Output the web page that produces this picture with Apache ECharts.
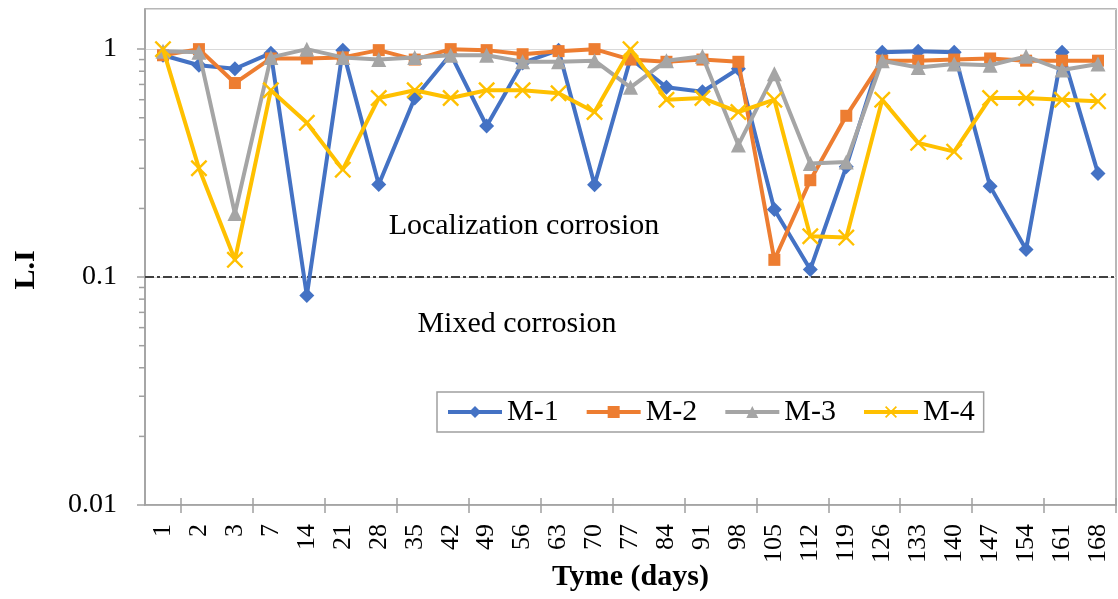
<!DOCTYPE html>
<html>
<head>
<meta charset="utf-8">
<script src="https://cdn.jsdelivr.net/npm/echarts@6/dist/echarts.min.js"></script>
<style>
html,body{margin:0;padding:0;background:#fff;}
#chart{width:1118px;height:599px;}
</style>
</head>
<body>
<div id="chart"></div>
<script>
// ---- data ----
const categories = ['1','2','3','7','14','21','28','35','42','49','56','63','70','77','84','91','98','105','112','119','126','133','140','147','154','161','168'];
const m1 = [0.94,0.85,0.82,0.96,0.083,0.99,0.255,0.61,0.95,0.46,0.87,0.99,0.254,0.91,0.68,0.65,0.82,0.198,0.108,0.305,0.97,0.98,0.97,0.25,0.132,0.97,0.285];
const m2 = [0.94,1.0,0.71,0.91,0.91,0.92,0.99,0.90,1.0,0.99,0.95,0.98,1.0,0.90,0.88,0.90,0.88,0.119,0.266,0.51,0.89,0.89,0.90,0.91,0.89,0.89,0.89];
const m3 = [0.98,0.97,0.19,0.92,1.0,0.92,0.90,0.92,0.94,0.94,0.88,0.88,0.89,0.68,0.89,0.93,0.38,0.78,0.315,0.32,0.89,0.83,0.86,0.85,0.93,0.81,0.86];
const m4 = [1.0,0.30,0.119,0.66,0.475,0.296,0.61,0.66,0.61,0.66,0.66,0.64,0.53,1.0,0.60,0.61,0.53,0.60,0.151,0.149,0.60,0.388,0.355,0.61,0.61,0.60,0.59];
const seriesNames = ['M-1','M-2','M-3','M-4'];
const yTickValues = [0.01, 0.1, 1];
const yMinorTicks = [0.02,0.03,0.04,0.05,0.06,0.07,0.08,0.09,0.2,0.3,0.4,0.5,0.6,0.7,0.8,0.9];
const thresholdValue = 0.1;
const xTitle = 'Tyme (days)';
const yTitle = 'L.I';
const noteUpper = 'Localization corrosion';
const noteLower = 'Mixed corrosion';

// ---- styles ----
const FONT = '"Liberation Serif", "Times New Roman", serif';
const colors = ['#4472C4','#ED7D31','#A5A5A5','#FFC000'];
const xSymbol = 'path://M0,1 L1,0 L5,4 L9,0 L10,1 L6,5 L10,9 L9,10 L5,6 L1,10 L0,9 L4,5 Z';
const symbols = ['diamond','rect','triangle',xSymbol];
const symbolSizes = [15,12,15,17];
const axisGray = '#A0A0A0';

const chart = echarts.init(document.getElementById('chart'), null, {renderer:'canvas'});

const lineSeries = [m1,m2,m3,m4].map((d,i) => ({
  name: seriesNames[i],
  type: 'line',
  data: d,
  xAxisIndex: 0,
  yAxisIndex: 0,
  symbol: symbols[i],
  symbolSize: symbolSizes[i],
  showAllSymbol: true,
  lineStyle: {width: 4, color: colors[i]},
  itemStyle: {color: colors[i], borderWidth: 0},
  emphasis: {disabled: true},
  z: 3 + i,
  markLine: i === 0 ? {
    silent: true,
    symbol: ['none','none'],
    label: {show: false},
    lineStyle: {color: '#404040', width: 2, type: [9,3,3,3]},
    data: [{yAxis: thresholdValue}],
    z: 2
  } : undefined
}));

const minorTickSeries = {
  type: 'custom',
  xAxisIndex: 0,
  yAxisIndex: 0,
  silent: true,
  clip: false,
  data: yMinorTicks.map(v => [0, v]),
  renderItem: function(params, api) {
    const cs = params.coordSys;
    const y = api.coord([api.value(0), api.value(1)])[1];
    return {
      type: 'line',
      shape: {x1: cs.x - 6, y1: y, x2: cs.x, y2: y},
      style: {stroke: axisGray, lineWidth: 1.5}
    };
  },
  z: 1
};

chart.setOption({
  animation: false,
  color: colors,
  textStyle: {fontFamily: FONT},
  grid: {
    left: 145, right: 2, top: 9, bottom: 94,
    containLabel: false,
    outerBoundsMode: 'none',
    show: true, borderColor: axisGray, borderWidth: 1.5, backgroundColor: 'transparent'
  },
  legend: {
    data: seriesNames,
    left: 437, top: 392,
    orient: 'horizontal',
    padding: [5, 9],
    itemGap: 26,
    itemWidth: 54,
    itemHeight: 15,
    lineStyle: {width: 4},
    borderColor: axisGray,
    borderWidth: 1.5,
    backgroundColor: '#fff',
    textStyle: {fontFamily: FONT, fontSize: 30, color: '#000'}
  },
  xAxis: [{
    type: 'category',
    data: categories,
    boundaryGap: true,
    position: 'bottom',
    name: xTitle,
    nameLocation: 'middle',
    nameGap: 57,
    nameMoveOverlap: false,
    nameTextStyle: {fontFamily: FONT, fontSize: 30, fontWeight: 'bold', color: '#000'},
    axisLine: {show: true, lineStyle: {color: axisGray, width: 1.5}},
    axisTick: {show: true, length: 8, lineStyle: {color: axisGray, width: 1.5}, interval: (i) => i % 2 === 1},
    axisLabel: {interval: 0, rotate: 90, margin: 19, fontFamily: FONT, fontSize: 26, color: '#000'},
    splitLine: {show: false}
  }, {
    type: 'category',
    data: categories,
    boundaryGap: true,
    position: 'bottom',
    offset: 0,
    axisLine: {show: false},
    axisTick: {show: true, inside: true, length: 7, lineStyle: {color: axisGray, width: 1.5}, interval: (i) => i % 2 === 1},
    axisLabel: {show: false},
    splitLine: {show: false}
  }],
  yAxis: {
    type: 'log',
    logBase: 10,
    min: 0.01,
    max: 1.5,
    name: yTitle,
    nameLocation: 'middle',
    nameGap: 104,
    nameMoveOverlap: false,
    nameTextStyle: {fontFamily: FONT, fontSize: 30, fontWeight: 'bold', color: '#000', padding: [0, 26, 0, 0]},
    axisLine: {show: true, lineStyle: {color: axisGray, width: 1.5}},
    axisTick: {show: true, length: 8, lineStyle: {color: axisGray, width: 1.5}},
    axisLabel: {
      margin: 28,
      fontFamily: FONT, fontSize: 28, color: '#000',
      showMaxLabel: false,
      formatter: function(v) {
        const r = yTickValues.find(t => Math.abs(t - v) / t < 1e-6);
        return r === undefined ? '' : String(r);
      }
    },
    splitLine: {show: true, lineStyle: {color: '#D9D9D9', width: 1}},
    minorTick: {show: false}
  },
  graphic: [
    {type: 'text', x: 524, y: 226, z: 10, style: {text: noteUpper, font: '30px ' + FONT, fill: '#000', textAlign: 'center', textVerticalAlign: 'middle', verticalAlign: 'middle'}},
    {type: 'text', x: 517, y: 324, z: 10, style: {text: noteLower, font: '30px ' + FONT, fill: '#000', textAlign: 'center', textVerticalAlign: 'middle', verticalAlign: 'middle'}}
  ],
  series: [minorTickSeries].concat(lineSeries)
});
</script>
</body>
</html>
